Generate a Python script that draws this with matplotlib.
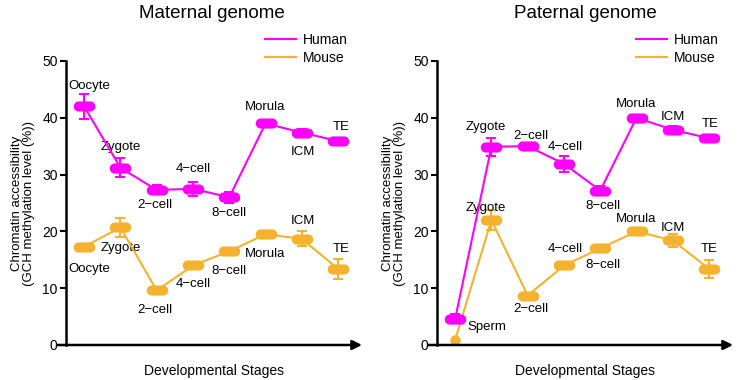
import numpy as np
import matplotlib
matplotlib.use("Agg")
import matplotlib.pyplot as plt
from matplotlib.path import Path

plt.rcParams['font.family'] = ['Liberation Sans', 'DejaVu Sans']

# datos
mat_stages = ["Oocyte", "Zygote", "2\u2212cell", "4\u2212cell", "8\u2212cell", "Morula", "ICM", "TE"]
mat_human = [42.0, 31.2, 27.3, 27.5, 26.0, 39.0, 37.4, 35.9]
mat_human_err = [2.2, 1.7, 0.8, 1.2, 1.0, 0.4, 0.6, 0.3]
mat_mouse = [17.3, 20.7, 9.6, 14.0, 16.5, 19.5, 18.7, 13.4]
mat_mouse_err = [0.5, 1.6, 0.5, 0.4, 0.3, 0.6, 1.3, 1.7]

pat_stages = ["Sperm", "Zygote", "2\u2212cell", "4\u2212cell", "8\u2212cell", "Morula", "ICM", "TE"]
pat_human = [4.6, 34.9, 35.0, 31.9, 27.2, 40.0, 37.9, 36.4]
pat_human_err = [0.8, 1.6, 0.4, 1.4, 0.8, 0.3, 0.7, 0.3]
pat_mouse = [0.9, 22.0, 8.7, 14.0, 17.0, 20.0, 18.4, 13.4]
pat_mouse_err = [0.0, 1.7, 0.3, 0.3, 0.3, 0.5, 1.2, 1.6]

# desplazamientos de las etiquetas (puntos)
mat_human_off = [(4, 15), (0, 15), (-1, -11), (0, 14), (0, -11), (0, 12), (1, -14), (2, 10)]
mat_mouse_off = [(4, -16), (0, -15), (-1, -14), (0, -13), (0, -14), (0, -14), (1, 13), (2, 14)]
pat_human_off = [(23, -6), (-4, 14), (2, 7), (1, 12), (2, -11), (0, 10), (0, 9), (1, 10)]
pat_mouse_off = [None, (-4, 9), (2, -10), (1, 12), (2, -12), (0, 9), (0, 9), (0, 14)]

HUMAN = '#FF00FF'
MOUSE = '#F5B22F'

# marcador tipo "estadio" (rectangulo con extremos redondos)
t = np.linspace(-np.pi / 2, np.pi / 2, 20)
right = np.column_stack([1.3 + np.cos(t), np.sin(t)])
left = np.column_stack([-1.3 - np.cos(t), -np.sin(t)])
verts = np.vstack([right, left, right[:1]])
stadium = Path(verts, closed=True)

fig = plt.figure(figsize=(7.47, 3.8), dpi=100)
W, H = 747, 380


def panel(x0, title, stages, hum, hum_err, mou, mou_err, hoff, moff, title_x):
    ax = fig.add_axes([x0 / W, 35 / H, 296 / W, 284 / H])
    x = np.arange(len(stages))
    ax.errorbar(x, hum, yerr=hum_err, color=HUMAN, lw=1.5, capsize=3.5, elinewidth=1.5,
                capthick=1.5, marker=stadium, ms=14.5, mec=HUMAN, mfc=HUMAN, zorder=3)
    if moff[0] is None:
        ax.errorbar(x[1:], mou[1:], yerr=mou_err[1:], color=MOUSE, lw=0, capsize=3.5,
                    elinewidth=1.5, capthick=1.5, marker=stadium, ms=14.5, mec=MOUSE, mfc=MOUSE, zorder=3)
        ax.plot(x, mou, color=MOUSE, lw=1.5, zorder=3)
        ax.plot(x[:1], mou[:1], 'o', color=MOUSE, ms=6.5, zorder=3)
    else:
        ax.errorbar(x, mou, yerr=mou_err, color=MOUSE, lw=1.5, capsize=3.5, elinewidth=1.5,
                    capthick=1.5, marker=stadium, ms=14.5, mec=MOUSE, mfc=MOUSE, zorder=3)
    for i, s in enumerate(stages):
        ax.annotate(s, (x[i], hum[i]), xytext=hoff[i], textcoords='offset points',
                    ha='center', va='center', fontsize=9.5)
        if moff[i] is not None:
            ax.annotate(s, (x[i], mou[i]), xytext=moff[i], textcoords='offset points',
                        ha='center', va='center', fontsize=9.5)
    ax.set_xlim(-0.5, 7.66)
    ax.set_ylim(0, 50)
    ax.set_yticks([0, 10, 20, 30, 40, 50])
    ax.set_xticks([])
    for sp in ['top', 'right', 'bottom']:
        ax.spines[sp].set_visible(False)
    ax.spines['left'].set_linewidth(1.8)
    ax.tick_params(axis='y', labelsize=10, width=1.5, length=4, pad=2)
    ax.annotate('', xy=(1.0, 0), xytext=(-0.03, 0), xycoords='axes fraction',
                arrowprops=dict(arrowstyle='-|>', lw=1.8, color='black', mutation_scale=14,
                                shrinkA=0, shrinkB=0))
    ax.set_ylabel("Chromatin accessibility\n(GCH methylation level (%))", fontsize=9.5,
                  labelpad=5, linespacing=1.05)
    ax.set_xlabel("Developmental Stages", fontsize=10, labelpad=14)
    fig.text(title_x / W, 1 - 14 / H, title, ha='center', va='center', fontsize=13.5)
    h1, = ax.plot([], [], color=HUMAN, lw=1.5)
    h2, = ax.plot([], [], color=MOUSE, lw=1.5)
    ax.legend([h1, h2], ["Human", "Mouse"], loc='center left', frameon=False,
              bbox_to_anchor=((x0 + 199) / W, 1 - 49 / H), bbox_transform=fig.transFigure,
              fontsize=10, handlelength=2.2, handletextpad=0.5, labelspacing=0.3,
              borderaxespad=0, borderpad=0)
    return ax


panel(66, "Maternal genome", mat_stages, mat_human, mat_human_err, mat_mouse, mat_mouse_err,
      mat_human_off, mat_mouse_off, 212)
panel(437, "Paternal genome", pat_stages, pat_human, pat_human_err, pat_mouse, pat_mouse_err,
      pat_human_off, pat_mouse_off, 585)

fig.savefig("out.png", dpi=100)
